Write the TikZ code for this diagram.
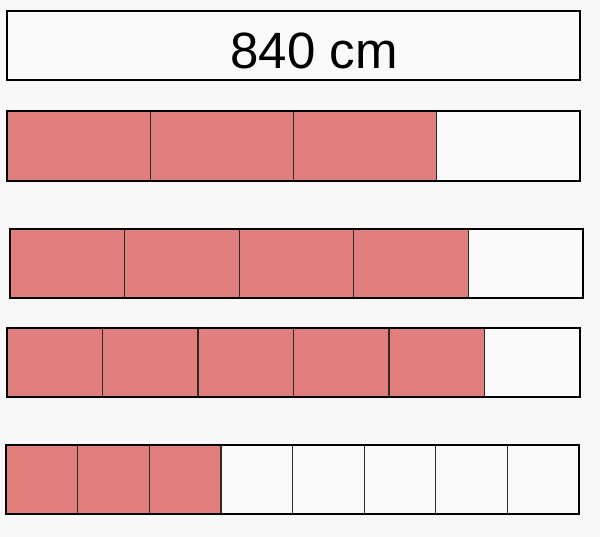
\documentclass[tikz,border=0pt]{standalone}
\usepackage{fontspec}
\setmainfont{Liberation Sans}
\definecolor{barred}{RGB}{225,126,126}
\definecolor{bgcol}{RGB}{248,248,248}
\definecolor{cellwhite}{RGB}{250,250,250}
\tikzset{every picture/.style={line width=0.75pt}}
\tikzset{
	divider/.style={draw={rgb, 255:red, 50; green, 40; blue, 40}, line width=1.2pt},
	barframe/.style={draw=black, line width=2pt},
	bigtext/.style={inner sep=0pt, font=\fontsize{51}{51}\selectfont}
}

\begin{document}
\begin{tikzpicture}[x=1pt,y=1pt,yscale=-1]
			\fill [bgcol] (0,0) rectangle (600,537);
			\useasboundingbox (0,0) rectangle (600,537);
			% whole length
			\draw [barframe, fill=cellwhite] (7,11) rectangle (580,80);
			\node [bigtext] (total) at (314,51) {840 cm};
			% quarters
			\fill [barred] (7,111) rectangle (436.75,181);
			\fill [cellwhite] (436.75,111) rectangle (580,181);
			\foreach \x in {150.25,293.5,436.75} \draw [divider] (\x,111) -- (\x,181);
			\draw [barframe] (7,111) rectangle (580,181);
			% fifths
			\fill [barred] (10,229) rectangle (468.4,298);
			\fill [cellwhite] (468.4,229) rectangle (583,298);
			\foreach \x in {124.6,239.2,353.8,468.4} \draw [divider] (\x,229) -- (\x,298);
			\draw [barframe] (10,229) rectangle (583,298);
			% sixths
			\fill [barred] (7,328) rectangle (484.5,397);
			\fill [cellwhite] (484.5,328) rectangle (580,397);
			\foreach \x in {102.5,198,293.5,389,484.5} \draw [divider] (\x,328) -- (\x,397);
			\draw [barframe] (7,328) rectangle (580,397);
			% eighths
			\fill [barred] (6,445) rectangle (220.9,514);
			\fill [cellwhite] (220.9,445) rectangle (579,514);
			\foreach \x in {77.6,149.25,220.9,292.5,364.1,435.75,507.4} \draw [divider] (\x,445) -- (\x,514);
			\draw [barframe] (6,445) rectangle (579,514);
		\end{tikzpicture}
\end{document}
